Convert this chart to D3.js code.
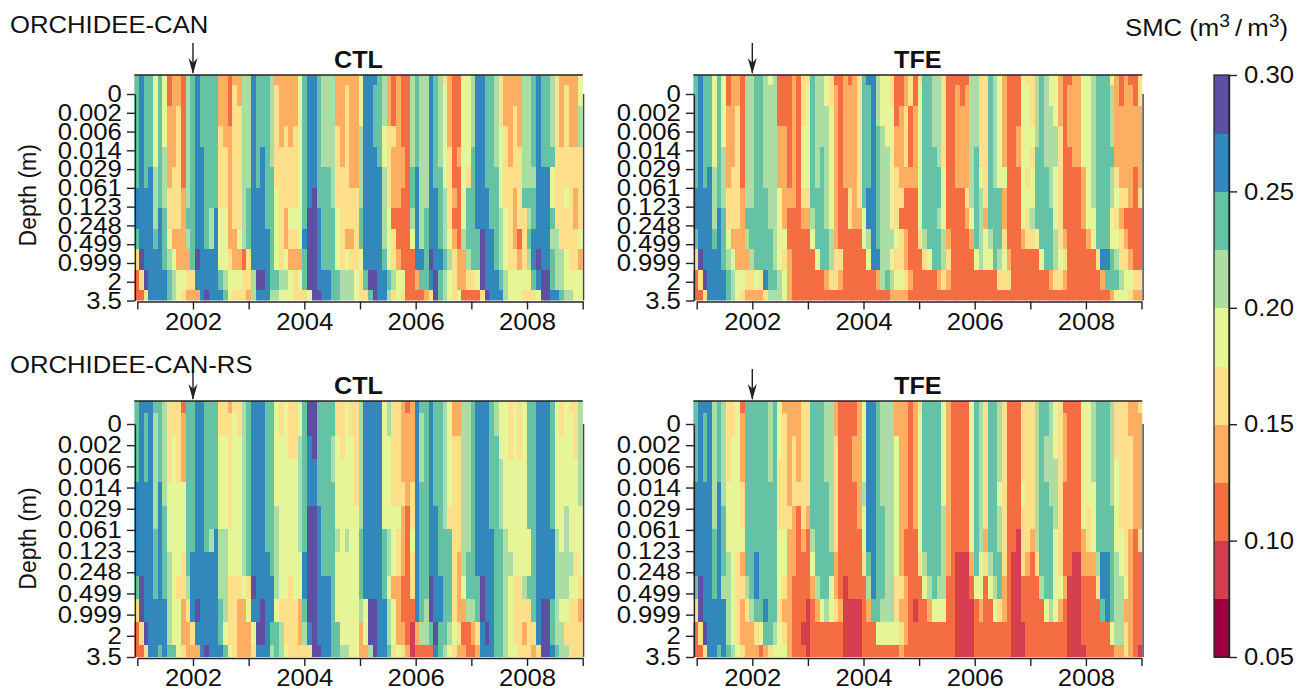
<!DOCTYPE html>
<html>
<head>
<meta charset="utf-8">
<title>SMC</title>
<script src="https://cdn.jsdelivr.net/npm/d3@7"></script>
<style>
  html, body { margin: 0; padding: 0; background: #fff; }
  text { font-family: "Liberation Sans", Arial, sans-serif; fill: #111; }
  .axis text { font-size: 24px; }
  .axis path, .axis line { stroke: #222; stroke-width: 1.4; }
</style>
</head>
<body>
<div id="chart"></div>
<script>
// smc classes per soil layer (top to bottom), one block of 12 months per year
// digit n means the colour class 0.05 + n * 0.025 .. 0.05 + (n + 1) * 0.025
let canCtl = [
  '787757523326 787777332336 687776333335 788766633333 588876323226 766876432255 688776433336 678776433335',
  '787757523326 787777332436 687776433335 788766633433 588776323226 766876532255 688776433336 678776434335',
  '787757533426 787777332446 687776433335 788766633433 588776323226 766876532255 688776433436 678776434336',
  '787757533426 787777433446 687776434345 788766643433 688775443226 766876532255 688776543436 678776434336',
  '787757633426 788777443446 687876444445 788766643433 688875433326 766876542355 788776543446 678777444444',
  '787867634426 788777443446 687877444445 788777644433 688886433327 866877542254 788777544446 668885444444',
  '888867644436 788777443446 788877544445 789777644444 688886433227 866887643257 788877544347 778885445434',
  '888868744437 788768553446 788877543555 799877754444 788886522226 867887642257 788877654344 678887444434',
  '788878753336 788768553356 788887543445 899877754334 788886542225 867887653267 779887654324 788886644445',
  '498888765333 798888554332 488887545333 799877754544 588887543222 887988764336 779887654434 689887665443',
  '249888876554 488888765554 469987766545 799888776665 479988765522 377897654334 459888765555 578997665555',
  '224888876543 338988875444 368886655544 459988776665 447988645422 223497654522 224988865554 445998876655'
]

let canTfe = [
  '787757523326 677656222324 476654223234 788655422342 477664222226 644765322254 467655322335 567775323224',
  '787757523326 677666222324 576654323334 778655422342 577664223236 644765322255 467655323335 567776323324',
  '787757533426 677666222324 576665323334 778655523423 577664223336 644765322255 467665323335 567776333333',
  '787757533426 677666332325 576665323334 778765533423 577664223336 644765322355 567666423335 567776333333',
  '787757633426 677666332325 576765323334 778766533423 577764223336 744765322355 477666422335 567777333333',
  '787867634426 677666332325 576765323334 778766543333 577775223336 754765522254 577765422223 567776433323',
  '888867644436 677766533324 477765322434 788766544222 577775222246 764777322255 577765422223 567776544324',
  '888868744437 777766532223 367765322433 588766542222 577765222235 763777322254 677775422223 557775432222',
  '788878753336 777776552222 257776322222 568766654322 467776322223 765677422234 457776432222 357775543222',
  '498888765333 677776543222 225776442222 258866544322 245776422222 565576532222 225776542222 224887644322',
  '249888876554 454877653222 222234432222 222367655432 222234322222 222224442222 222234432222 222377765544',
  '224888876543 333466653222 222222222222 222222333322 222222222222 222222222222 222222222222 222223555433'
]

let rsCtl = [
  '788877644427 788777443446 788877545445 799777744544 688885644323 877877653366 788876554545 778887545446',
  '787867644437 788777444546 788877545445 799777744544 688885644333 867877653366 788876554545 778887545546',
  '787867645437 788777554556 788877555446 789777654554 688885544333 867877654466 788877554545 778887555546',
  '787867645437 788777554556 788877555556 788777655554 688885544333 867877654466 788877655555 778887555556',
  '888868655557 788777554556 788877555556 788777755554 688885544434 877877654466 788877655555 778887555556',
  '888868755557 788777554556 788877655556 799877755555 688885555324 877887644466 788877655555 778887556555',
  '888878755557 788768665556 788877655556 799877765655 788887654325 877887774466 788887765555 578888656555',
  '888878765547 888888665556 788887655555 899877755555 788887654324 877887774367 788887766555 578888666645',
  '798878765446 888888664445 498888655455 899888755555 788887533224 877988774357 779887765446 778888666554',
  '498888865534 898888764433 588988544443 799888755555 659988653222 876988774336 679887765444 478997655443',
  '249888865533 488888754433 359987764443 689888775555 359988653321 366797765422 348987765443 448997664444',
  '224887877543 338988875433 348886765444 449988776655 336988745431 222287654332 238887765544 434998766444'
]

let rsTfe = [
  '788867644527 777767533334 477766322223 588766633323 477775322225 764776422244 467765422225 567776444334',
  '787867644537 777767543334 477766322223 588766633323 577775322225 764776422244 467765432225 567776444333',
  '787867645537 777767543434 477766422233 588766653323 577775322225 764776422244 467665432225 567776444433',
  '787867645537 777767443434 477766422233 588766653323 577775322225 764776422244 467666432225 567776544433',
  '888868655547 777777443444 477776422223 688766653323 577775322225 764775422254 467766422225 557776544433',
  '888868755547 777777444324 377776422223 588776653323 577776322225 764776422244 467776422225 457777544433',
  '888878755557 777777553323 267776422222 588776653222 577776322225 763776422144 367775422223 457777554324',
  '888878765437 787777553322 257777322222 478776653222 467776321113 754677421143 247775422113 336887654322',
  '798878665446 787777543222 236775321222 268776644322 256766221112 552567321122 226775531112 224887665322',
  '498888865434 677877433222 123565431111 237766643321 223555221111 232254321122 222565321112 222787663322',
  '249888865433 345776543221 122222221111 222555554322 222222221111 222222221112 222222221112 222225664322',
  '224887876543 332345553222 122222221111 222222223222 222222221111 222222221112 222222221111 222222334321'
]

let depthLabels = ['0', '0.002', '0.006', '0.014', '0.029', '0.061', '0.123', '0.248', '0.499', '0.999', '2', '3.5']
let yearTicks = [2001, 2002, 2003, 2004, 2005, 2006, 2007, 2008, 2009]
let colourTicks = [0.05, 0.10, 0.15, 0.20, 0.25, 0.30]
let colours = ['#9e0142', '#d53e4f', '#f46d43', '#fdae61', '#fee08b', '#e6f598', '#abdda4', '#66c2a5', '#3288bd', '#5e4fa2']

let width = 1311,
  height = 695

let smc = d3.scaleQuantize()
  .domain([0.05, 0.30])
  .range(colours)

let svg = d3.select('#chart').append('svg')
  .attr('width', width)
  .attr('height', height)
  .style('display', 'block')

// the original is wider than it is tall, so horizontal text runs a bit wide
function stretch(selection) {
  selection.each(function () {
    let len = this.getComputedTextLength()
    if (len > 0) {
      d3.select(this)
        .attr('textLength', len * 1.07)
        .attr('lengthAdjust', 'spacingAndGlyphs')
    }
  })
}

// panel boxes
let columns = [{x0: 134.3, x1: 582.8, tick0: 137.3, tick1: 582.7}, {x0: 693.3, x1: 1142.3, tick0: 696.7, tick1: 1141.5}]
let lines = [{top: 75, bottom: 300.5, first: 94, name: 'ORCHIDEE-CAN', nameY: 33}, {top: 401, bottom: 657, first: 424, name: 'ORCHIDEE-CAN-RS', nameY: 373}]

let panels = [
  {rows: canCtl, col: 0, line: 0, title: 'CTL'},
  {rows: canTfe, col: 1, line: 0, title: 'TFE'},
  {rows: rsCtl, col: 0, line: 1, title: 'CTL'},
  {rows: rsTfe, col: 1, line: 1, title: 'TFE'}
]

let months = d3.range(96)

function drawPanel(p, i) {
  let c = columns[p.col],
    l = lines[p.line]

  let x = d3.scaleBand().domain(months).range([c.x0, c.x1])
  // layers are centred on the box edges, the first and the last one get cut
  let y = d3.scaleLinear().domain([0, depthLabels.length - 1]).range([l.top, l.bottom])
  let xAxisScale = d3.scaleLinear().domain([2001, 2009]).range([c.tick0, c.tick1])
  let yAxisScale = d3.scalePoint().domain(depthLabels).range([l.first, l.bottom])

  let g = svg.append('g')

  g.append('defs').append('clipPath')
    .attr('id', 'clip' + i)
    .append('rect')
    .attr('x', c.x0)
    .attr('y', l.top)
    .attr('width', c.x1 - c.x0)
    .attr('height', l.bottom - l.top)

  let cells = []
  p.rows.forEach(function (row, r) {
    row.replace(/ /g, '').split('').forEach(function (d, m) {
      cells.push({row: r, month: m, value: 0.0625 + d * 0.025})
    })
  })

  g.append('g')
    .attr('clip-path', 'url(#clip' + i + ')')
    .selectAll('rect')
    .data(cells)
    .enter().append('rect')
    .attr('x', function (d) {
      return x(d.month)
    })
    .attr('y', function (d) {
      return y(d.row - 0.5)
    })
    .attr('width', x.bandwidth() + 0.4)
    .attr('height', y(1) - y(0) + 0.4)
    .attr('fill', function (d) {
      return smc(d.value)
    })
    .attr('shape-rendering', 'crispEdges')

  // top edge and the unlabelled right axis
  g.append('line')
    .attr('x1', c.x0).attr('x2', c.x1)
    .attr('y1', l.top).attr('y2', l.top)
    .attr('stroke', '#222').attr('stroke-width', 1.6)
  g.append('line')
    .attr('x1', c.x1 + 0.8).attr('x2', c.x1 + 0.8)
    .attr('y1', l.first).attr('y2', l.bottom)
    .attr('stroke', '#444').attr('stroke-width', 1.4)

  g.append('g')
    .attr('class', 'axis')
    .attr('transform', 'translate(0,' + (l.bottom + 1) + ')')
    .call(d3.axisBottom(xAxisScale)
      .tickValues(yearTicks)
      .tickSize(8)
      .tickSizeOuter(0)
      .tickPadding(3)
      .tickFormat(function (d) {
        return d % 2 === 0 ? d : ''
      }))
    .selectAll('text')
    .call(stretch)

  g.append('g')
    .attr('class', 'axis')
    .attr('transform', 'translate(' + (c.x0 + 0.6) + ',0)')
    .call(d3.axisLeft(yAxisScale)
      .tickSize(8)
      .tickSizeOuter(0)
      .tickPadding(5))
    .selectAll('text')
    .call(stretch)

  g.append('text')
    .text(p.title)
    .attr('x', (c.x0 + c.x1) / 2)
    .attr('y', l.top - 7)
    .attr('text-anchor', 'middle')
    .style('font-size', '23.5px')
    .style('font-weight', 'bold')
    .call(stretch)

  // arrow at the start of the exclusion, Jan 2002
  let arrowX = xAxisScale(2002)
  g.append('line')
    .attr('x1', arrowX).attr('x2', arrowX)
    .attr('y1', l.top - 32).attr('y2', l.top - 2)
    .attr('stroke', '#222').attr('stroke-width', 1.4)
  g.append('path')
    .attr('d', d3.line()([[arrowX - 4.5, l.top - 17], [arrowX, l.top - 1], [arrowX + 4.5, l.top - 17], [arrowX, l.top - 12]]) + 'Z')
    .attr('fill', '#222')
}

panels.forEach(drawPanel)

lines.forEach(function (l) {
  svg.append('text')
    .text(l.name)
    .attr('x', 10)
    .attr('y', l.nameY)
    .style('font-size', '24px')
    .call(stretch)

  svg.append('text')
    .text('Depth (m)')
    .attr('transform', 'translate(36,' + ((l.first + l.bottom) / 2 - 2) + ') rotate(-90)')
    .attr('text-anchor', 'middle')
    .style('font-size', '23px')
})

// colour bar
let barLeft = 1214,
  barWidth = 15

let barY = d3.scaleLinear()
  .domain([0.05, 0.30])
  .range([657, 75])

let barStep = 0.025
svg.append('g').selectAll('rect')
  .data(colours)
  .enter().append('rect')
  .attr('x', barLeft)
  .attr('y', function (d, i) {
    return barY(0.05 + (i + 1) * barStep)
  })
  .attr('width', barWidth)
  .attr('height', barY(0.05) - barY(0.05 + barStep) + 0.5)
  .attr('fill', function (d) {
    return d
  })
  .attr('shape-rendering', 'crispEdges')

svg.append('rect')
  .attr('x', barLeft)
  .attr('y', barY(0.30))
  .attr('width', barWidth)
  .attr('height', barY(0.05) - barY(0.30))
  .attr('fill', 'none')
  .attr('stroke', '#222')
  .attr('stroke-width', 1.2)

svg.append('g')
  .attr('class', 'axis')
  .attr('transform', 'translate(' + (barLeft + barWidth) + ',0)')
  .call(d3.axisRight(barY)
    .tickValues(colourTicks)
    .tickSize(8)
    .tickSizeOuter(0)
    .tickPadding(7)
    .tickFormat(d3.format('.2f')))
  .selectAll('text')
  .style('font-size', '24px')
  .call(stretch)

let smcTitle = svg.append('text')
  .attr('x', 1288)
  .attr('y', 36)
  .attr('text-anchor', 'end')
  .style('font-size', '24px')
smcTitle.append('tspan').text('SMC (m')
smcTitle.append('tspan').text('3').attr('dy', -9).style('font-size', '18px')
smcTitle.append('tspan').text('\u2009/\u2009m').attr('dy', 9)
smcTitle.append('tspan').text('3').attr('dy', -9).style('font-size', '18px')
smcTitle.append('tspan').text(')').attr('dy', 9)
smcTitle.call(stretch)
</script>
</body>
</html>
